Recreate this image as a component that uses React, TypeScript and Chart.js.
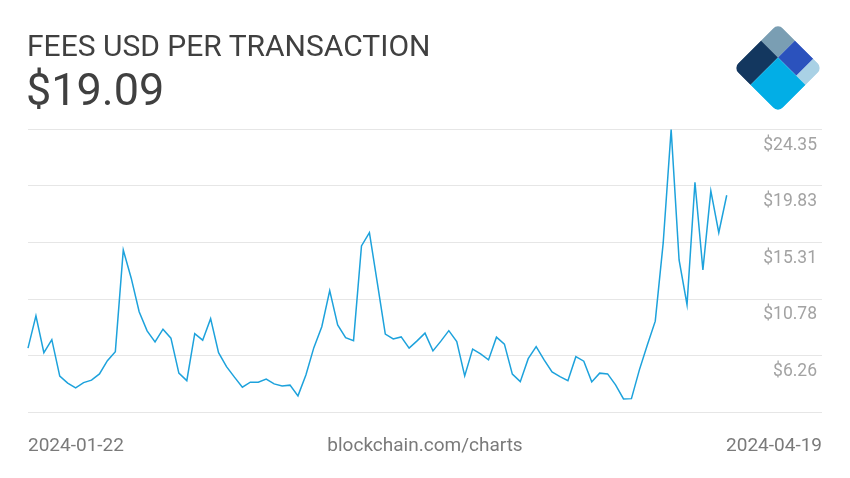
import React, { useEffect, useRef } from 'react';
import { Chart, registerables } from 'chart.js';

Chart.register(...registerables);

const titleText = 'FEES USD PER TRANSACTION';
const currentValue = '$19.09';
const startDate = '2024-01-22';
const endDate = '2024-04-19';
const sourceText = 'blockchain.com/charts';

// one value per day, 2024-01-22 .. 2024-04-19 (USD per transaction)
const fees = [
  6.85, 9.43, 6.49, 7.53, 4.61, 4.05, 3.67, 4.09, 4.29, 4.79,
  5.85, 6.57, 14.71, 12.45, 9.77, 8.23, 7.35, 8.37, 7.65, 4.85,
  4.25, 8.01, 7.49, 9.21, 6.49, 5.37, 4.53, 3.73, 4.13, 4.13,
  4.37, 3.99, 3.83, 3.89, 3.03, 4.71, 6.89, 8.57, 11.45, 8.71,
  7.69, 7.45, 15.03, 16.09, 12.05, 7.97, 7.59, 7.75, 6.85, 7.43,
  8.05, 6.63, 7.41, 8.25, 7.37, 4.63, 6.77, 6.39, 5.91, 7.73,
  7.17, 4.77, 4.17, 6.01, 6.97, 5.91, 4.95, 4.57, 4.25, 6.17,
  5.81, 4.15, 4.85, 4.79, 3.91, 2.79, 2.81, 5.11, 7.11, 9.01,
  15.27, 24.35, 13.91, 10.33, 20.13, 13.11, 19.43, 16.09, 19.09,
];

const yTicks = [1.74, 6.26, 10.78, 15.31, 19.83, 24.35];
const xDomainDays = 100;

const lineColor = '#1da2dc';

function Logo() {
  return (
    <svg width={110} height={100} style={{ position: 'absolute', left: 720, top: 15 }}>
      <defs>
        <clipPath id="diamondClip">
          <rect x={0} y={0} width={63} height={63} rx={7} ry={7} />
        </clipPath>
      </defs>
      <g transform="translate(58,8.45) rotate(45)" clipPath="url(#diamondClip)">
        <rect x={0} y={0} width={24} height={24} fill="#7a9eb3" />
        <rect x={0} y={24} width={24} height={39} fill="#13375f" />
        <rect x={24} y={0} width={26} height={24} fill="#2b52bd" />
        <rect x={50} y={0} width={13} height={24} fill="#a9d1e5" />
        <rect x={24} y={24} width={39} height={39} fill="#02aee6" />
      </g>
    </svg>
  );
}

export default function App() {
  const canvasRef = useRef<HTMLCanvasElement | null>(null);

  useEffect(() => {
    const canvas = canvasRef.current;
    if (!canvas) return;
    const chart = new Chart(canvas, {
      type: 'line',
      data: {
        datasets: [
          {
            data: fees.map((v, i) => ({ x: i, y: v })),
            borderColor: lineColor,
            borderWidth: 1.5,
            pointRadius: 0,
            tension: 0,
            fill: false,
            clip: false as any,
          },
        ],
      },
      options: {
        responsive: false,
        animation: false,
        devicePixelRatio: 1,
        layout: { padding: { left: 28, right: 28, top: 129.5, bottom: 66 } },
        plugins: { legend: { display: false }, tooltip: { enabled: false } },
        scales: {
          x: {
            type: 'linear',
            min: 0,
            max: xDomainDays,
            display: false,
          },
          y: {
            type: 'linear',
            position: 'right',
            min: yTicks[0],
            max: yTicks[yTicks.length - 1],
            afterBuildTicks: (scale: any) => {
              scale.ticks = yTicks.map((v) => ({ value: v }));
            },
            border: { display: false },
            grid: { color: '#e6e6e6', lineWidth: 1, drawTicks: false },
            ticks: {
              mirror: true,
              padding: -5,
              labelOffset: 16,
              color: '#a3a3a3',
              font: { family: 'Roboto', size: 17.5 },
              callback: (value: any, index: number) =>
                index === 0 ? '' : '$' + Number(value).toFixed(2),
            },
          },
        },
      },
    });
    return () => chart.destroy();
  }, []);

  const textBase: React.CSSProperties = {
    position: 'absolute',
    fontFamily: 'Roboto, sans-serif',
    whiteSpace: 'nowrap',
  };

  return (
    <div style={{ position: 'absolute', left: 0, top: 0, width: 850, height: 478, background: '#ffffff', overflow: 'hidden' }}>
      <canvas ref={canvasRef} width={850} height={478} style={{ position: 'absolute', left: 0, top: 0, width: 850, height: 478 }} />
      <div style={{ ...textBase, left: 27, top: 30.8, fontSize: 30, lineHeight: '30px', color: '#404040' }}>{titleText}</div>
      <div style={{ ...textBase, left: 26, top: 67, fontSize: 45, lineHeight: '45px', color: '#404040' }}>{currentValue}</div>
      <Logo />
      <div style={{ ...textBase, left: 28, top: 435, fontSize: 19, lineHeight: '19px', color: '#7a7a7a' }}>{startDate}</div>
      <div style={{ ...textBase, left: 0, width: 850, textAlign: 'center', top: 435, fontSize: 19, lineHeight: '19px', color: '#7a7a7a' }}>{sourceText}</div>
      <div style={{ ...textBase, right: 28, top: 435, fontSize: 19, lineHeight: '19px', color: '#7a7a7a' }}>{endDate}</div>
    </div>
  );
}
